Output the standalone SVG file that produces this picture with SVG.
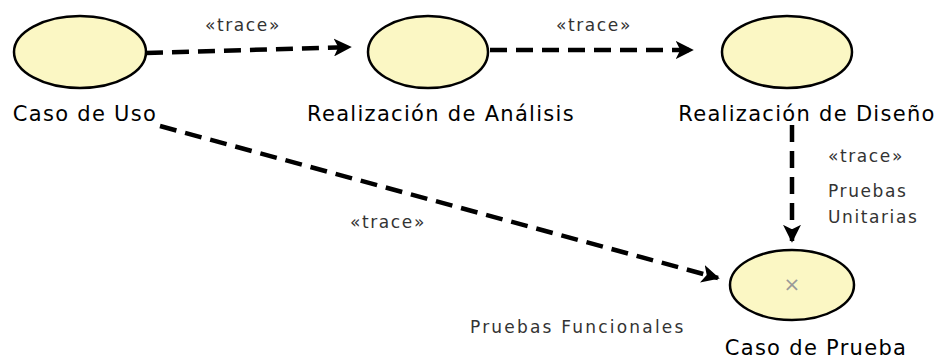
<svg xmlns="http://www.w3.org/2000/svg" width="939" height="360" viewBox="0 0 939 360">
<style>
.uc{fill:#fbf7c4;stroke:#000;stroke-width:2.5}
.lbl{font-family:"DejaVu Sans",Verdana,sans-serif;font-size:21px;letter-spacing:1.3px;fill:#000;text-anchor:middle}
.st{font-family:"DejaVu Sans",Verdana,sans-serif;font-size:17px;letter-spacing:1.6px;fill:#333}
.dep{fill:none;stroke:#000;stroke-width:4.5;stroke-dasharray:17 9}
</style>
<defs>
<marker id="ah" viewBox="0 0 10 10" refX="9" refY="5" markerWidth="4" markerHeight="4" orient="auto" markerUnits="strokeWidth">
<path d="M0,0 L10,5 L0,10 L2.5,5 Z" fill="#000"/>
</marker>
</defs>
<rect width="939" height="360" fill="#fff"/>
<g id="connectors">
<path class="dep" d="M146,53 L350,47" marker-end="url(#ah)"/>
<path class="dep" d="M490,50 L692,50" marker-end="url(#ah)"/>
<path class="dep" d="M792,125 L792,241" marker-end="url(#ah)"/>
<path class="dep" d="M160,126 L718,278" marker-end="url(#ah)"/>
<text class="st" x="205" y="31">«trace»</text>
<text class="st" x="556" y="31">«trace»</text>
<text class="st" x="828" y="162">«trace»</text>
<text class="st" x="828" y="197">Pruebas</text>
<text class="st" x="828" y="223">Unitarias</text>
<text class="st" x="350" y="228">«trace»</text>
<text class="st" x="470" y="333" style="letter-spacing:2.2px">Pruebas Funcionales</text>
</g>
<g id="caso-de-uso">
<ellipse class="uc" cx="80" cy="52" rx="66" ry="36"/>
<text class="lbl" x="85" y="121">Caso de Uso</text>
</g>
<g id="realizacion-analisis">
<ellipse class="uc" cx="428" cy="52" rx="60" ry="36"/>
<text class="lbl" x="441" y="121">Realización de Análisis</text>
</g>
<g id="realizacion-diseno">
<ellipse class="uc" cx="787" cy="52" rx="65" ry="36"/>
<text class="lbl" x="807" y="121">Realización de Diseño</text>
</g>
<g id="caso-de-prueba">
<ellipse class="uc" cx="792" cy="285" rx="62" ry="35"/>
<text x="792" y="291" font-family="DejaVu Sans,sans-serif" font-size="20" fill="#999" text-anchor="middle">×</text>
<text class="lbl" x="816" y="355">Caso de Prueba</text>
</g>
</svg>
